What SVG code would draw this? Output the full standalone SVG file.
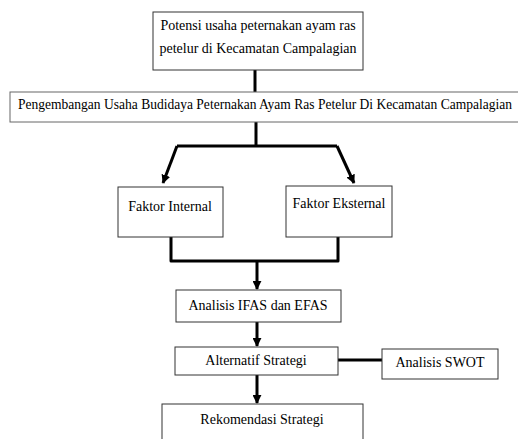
<svg xmlns="http://www.w3.org/2000/svg" width="518" height="439" viewBox="0 0 518 439">
<style>
.box{fill:#fff;stroke:#333;stroke-width:1}
.t{font-family:"Liberation Serif","Times New Roman",serif;font-size:14px;fill:#000;text-anchor:middle;dominant-baseline:central}
.c{fill:none;stroke:#000;stroke-width:3;stroke-linejoin:round}
</style>
<defs>
<marker id="ah" viewBox="0 0 10 10" refX="9" refY="5" markerWidth="3" markerHeight="3" orient="auto" markerUnits="strokeWidth">
<path d="M0,0 L10,5 L0,10 z" fill="#000"/>
</marker>
</defs>
<rect width="518" height="439" fill="#fff"/>
<g id="connectors">
<path class="c" d="M255,70 V92"/>
<path class="c" d="M256,122 V146"/>
<path class="c" d="M177,146 H337"/>
<path class="c" d="M177,146 L163,183" marker-end="url(#ah)"/>
<path class="c" d="M337,146 L354,183" marker-end="url(#ah)"/>
<path class="c" d="M171,237 V261 H338 V237"/>
<path class="c" d="M257,261 V289" marker-end="url(#ah)"/>
<path class="c" d="M257,322 V346" marker-end="url(#ah)"/>
<path class="c" d="M338,360 H382"/>
<path class="c" d="M257,375 V403" marker-end="url(#ah)"/>
</g>
<g id="n1"><rect class="box" x="153" y="12" width="210" height="58"/>
<text class="t" x="258" y="25">Potensi usaha peternakan ayam ras</text>
<text class="t" x="258" y="48">petelur di Kecamatan Campalagian</text></g>
<g id="n2"><rect class="box" x="10" y="92" width="520" height="30" style="stroke:#666"/>
<text class="t" x="18" y="104" style="text-anchor:start" textLength="494" lengthAdjust="spacingAndGlyphs">Pengembangan Usaha Budidaya Peternakan Ayam Ras Petelur Di Kecamatan Campalagian</text></g>
<g id="n3"><rect class="box" x="118" y="187" width="105" height="50"/>
<text class="t" x="170" y="206">Faktor Internal</text></g>
<g id="n4"><rect class="box" x="286" y="186" width="106" height="51"/>
<text class="t" x="339" y="203">Faktor Eksternal</text></g>
<g id="n5"><rect class="box" x="176" y="290" width="165" height="32"/>
<text class="t" x="258" y="305">Analisis IFAS dan EFAS</text></g>
<g id="n6"><rect class="box" x="175" y="347" width="163" height="28"/>
<text class="t" x="256" y="360">Alternatif Strategi</text></g>
<g id="n7"><rect class="box" x="382" y="349" width="116" height="30"/>
<text class="t" x="440" y="362">Analisis SWOT</text></g>
<g id="n8"><rect class="box" x="162" y="404" width="201" height="50"/>
<text class="t" x="262" y="419">Rekomendasi Strategi</text></g>
</svg>
